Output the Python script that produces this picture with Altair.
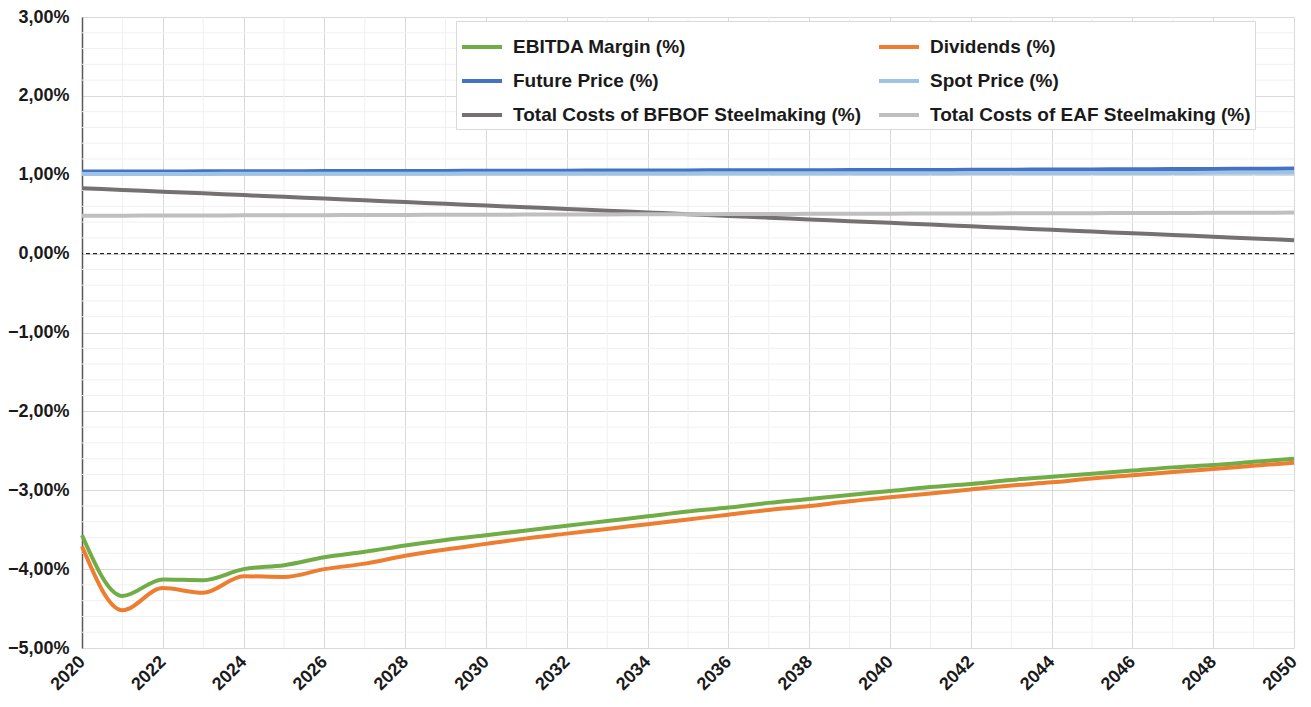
import altair as alt
import pandas as pd

years = list(range(2020, 2051))

series_names = [
    "EBITDA Margin (%)",
    "Dividends (%)",
    "Future Price (%)",
    "Spot Price (%)",
    "Total Costs of BFBOF Steelmaking (%)",
    "Total Costs of EAF Steelmaking (%)",
]
series_colors = ["#70AD47", "#ED7D31", "#4472C4", "#9DC3E6", "#767171", "#BFBFBF"]
# legend is filled column by column: this order gives the two-column layout of the original
legend_order = [0, 2, 4, 1, 3, 5]

ebitda = [-3.57, -4.34, -4.13, -4.14, -4.00, -3.95, -3.85, -3.78, -3.70, -3.63,
          -3.57, -3.51, -3.45, -3.39, -3.33, -3.27, -3.22, -3.16, -3.11, -3.06,
          -3.01, -2.96, -2.92, -2.87, -2.83, -2.79, -2.75, -2.71, -2.68, -2.64, -2.60]
dividends = [-3.71, -4.52, -4.24, -4.30, -4.09, -4.10, -4.00, -3.93, -3.83, -3.75,
             -3.68, -3.61, -3.55, -3.49, -3.43, -3.37, -3.31, -3.25, -3.20, -3.14,
             -3.09, -3.04, -2.99, -2.94, -2.90, -2.85, -2.81, -2.77, -2.73, -2.69, -2.65]
future_price = [1.040, 1.041, 1.042, 1.043, 1.044, 1.045, 1.046, 1.047, 1.048, 1.049,
                1.050, 1.051, 1.052, 1.053, 1.054, 1.055, 1.056, 1.057, 1.058, 1.059,
                1.060, 1.061, 1.062, 1.064, 1.066, 1.068, 1.070, 1.072, 1.074, 1.076, 1.078]
spot_price = [1.010, 1.010, 1.011, 1.011, 1.012, 1.012, 1.013, 1.013, 1.014, 1.014,
              1.015, 1.015, 1.016, 1.016, 1.017, 1.017, 1.018, 1.018, 1.019, 1.019,
              1.020, 1.020, 1.021, 1.021, 1.022, 1.022, 1.023, 1.023, 1.024, 1.024, 1.025]
bfbof = [0.830, 0.808, 0.786, 0.764, 0.742, 0.720, 0.698, 0.676, 0.654, 0.632,
         0.610, 0.588, 0.566, 0.544, 0.522, 0.500, 0.478, 0.456, 0.434, 0.412,
         0.390, 0.368, 0.346, 0.324, 0.302, 0.280, 0.258, 0.236, 0.214, 0.192, 0.170]
eaf = [0.480, 0.481, 0.483, 0.484, 0.485, 0.487, 0.488, 0.489, 0.491, 0.492,
       0.493, 0.495, 0.496, 0.497, 0.499, 0.500, 0.501, 0.503, 0.504, 0.505,
       0.507, 0.508, 0.509, 0.511, 0.512, 0.513, 0.515, 0.516, 0.517, 0.519, 0.520]

y_major = [-5, -4, -3, -2, -1, 0, 1, 2, 3]
y_minor = [round(v * 0.2 - 5, 1) for v in range(41) if (v % 5) != 0]
x_major = list(range(2020, 2051, 2))
x_minor = list(range(2021, 2050, 2))

all_values = [ebitda, dividends, future_price, spot_price, bfbof, eaf]
rows = []
for name, vals in zip(series_names, all_values):
    for yr, v in zip(years, vals):
        rows.append({"year": yr, "value": v, "series": name})
df = pd.DataFrame(rows)

FONT = "Liberation Sans"
xscale = alt.Scale(domain=[2020, 2050], nice=False, zero=False)
yscale = alt.Scale(domain=[-5, 3], nice=False)

x_axis = alt.Axis(
    values=x_major,
    format="d",
    labelAngle=-45,
    labelAlign="right",
    labelBaseline="middle",
    labelPadding=11,
    labelFont=FONT,
    labelFontSize=18,
    labelFontWeight="bold",
    labelColor="#1a1a1a",
    labelOverlap=False,
    labelBound=False,
    labelFlush=False,
    ticks=False,
    domain=False,
    grid=True,
    gridColor="#D9D9D9",
    gridWidth=1,
)
y_axis = alt.Axis(
    values=y_major,
    labelExpr="replace(format(datum.value, '.2f'), '.', ',') + '%'",
    labelFont=FONT,
    labelFontSize=18,
    labelFontWeight="bold",
    labelColor="#1a1a1a",
    labelPadding=13,
    labelFlush=False,
    ticks=False,
    domain=True,
    domainColor="#595959",
    domainWidth=1.5,
    grid=True,
    gridColor="#D9D9D9",
    gridWidth=1,
)

ygrid_minor = alt.Chart(pd.DataFrame({"v": y_minor})).mark_rule(
    color="#F0F0F0", strokeWidth=1
).encode(y=alt.Y("v:Q", scale=yscale, axis=y_axis, title=None))

xgrid_minor = alt.Chart(pd.DataFrame({"v": x_minor})).mark_rule(
    color="#F0F0F0", strokeWidth=1
).encode(x=alt.X("v:Q", scale=xscale, axis=x_axis, title=None))

zero_line = alt.Chart(pd.DataFrame({"v": [0]})).mark_rule(
    color="#000000", strokeWidth=1, strokeDash=[4, 3]
).encode(y=alt.Y("v:Q", scale=yscale, axis=y_axis, title=None))

lines = alt.Chart(df).mark_line(strokeWidth=4, interpolate="monotone").encode(
    x=alt.X("year:Q", scale=xscale, title=None, axis=x_axis),
    y=alt.Y("value:Q", scale=yscale, title=None, axis=y_axis),
    color=alt.Color(
        "series:N",
        scale=alt.Scale(
            domain=[series_names[i] for i in legend_order],
            range=[series_colors[i] for i in legend_order],
        ),
        title=None,
        legend=alt.Legend(
            orient="none",
            legendX=374,
            legendY=4,
            columns=2,
            columnPadding=9,
            rowPadding=2,
            padding=4,
            symbolType="stroke",
            symbolSize=1600,
            symbolStrokeWidth=4,
            labelOffset=9,
            labelFont=FONT,
            labelFontSize=19,
            labelFontWeight="bold",
            labelColor="#1a1a1a",
            labelLimit=500,
            strokeColor="#D9D9D9",
            fillColor="#FFFFFF",
        ),
    ),
)

chart = alt.layer(ygrid_minor, xgrid_minor, lines, zero_line).properties(
    width=1212,
    height=631,
    padding={"left": 74, "top": 9, "right": 8, "bottom": 52},
    autosize=alt.AutoSizeParams(type="none"),
    background="#FFFFFF",
).configure_view(stroke=None)

chart.save("out.html", embed_options={"renderer": "svg", "actions": False})
